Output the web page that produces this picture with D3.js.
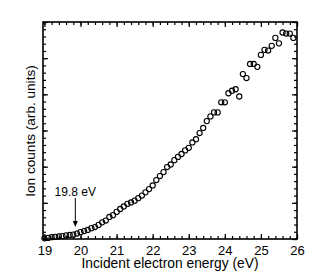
<!DOCTYPE html>
<html>
<head>
<meta charset="utf-8">
<script src="https://cdn.jsdelivr.net/npm/d3@7"></script>
<style>
  body { margin: 0; background: #fff; }
  text { font-family: "Liberation Sans", Arial, sans-serif; fill: #000; }
</style>
</head>
<body>
<div class="chart"></div>
<script>
// data
var energy = [19.0,19.1,19.2,19.3,19.4,19.5,19.6,19.7,19.8,19.9,
              20.0,20.1,20.2,20.3,20.4,20.5,20.6,20.7,20.8,20.9,
              21.0,21.1,21.2,21.3,21.4,21.5,21.6,21.7,21.8,21.9,
              22.0,22.1,22.2,22.3,22.4,22.5,22.6,22.7,22.8,22.9,
              23.0,23.1,23.2,23.3,23.4,23.5,23.6,23.7,23.8,23.9,
              24.0,24.1,24.2,24.3,24.4,24.5,24.6,24.7,24.8,24.9,
              25.0,25.1,25.2,25.3,25.4,25.5,25.6,25.7,25.8,25.9];
var counts = [0.02,0.03,0.05,0.06,0.07,0.08,0.10,0.11,0.12,0.15,
              0.19,0.22,0.25,0.30,0.33,0.39,0.46,0.51,0.61,0.66,
              0.75,0.83,0.90,0.97,1.01,1.06,1.13,1.20,1.29,1.38,
              1.48,1.63,1.74,1.85,1.99,2.06,2.18,2.27,2.35,2.45,
              2.52,2.67,2.76,2.93,3.07,3.26,3.39,3.50,3.50,3.78,
              3.78,4.03,4.10,4.14,3.94,4.56,4.45,4.84,4.84,4.76,
              5.09,5.23,5.21,5.34,5.56,5.41,5.71,5.68,5.68,5.56];
var xTicks = [19, 20, 21, 22, 23, 24, 25, 26];
var threshold = 19.8;
var thresholdLabel = '19.8 eV';

var margin = { top: 22, right: 33, bottom: 33, left: 43 },
    width  = 330 - margin.left - margin.right,
    height = 272 - margin.top - margin.bottom;

var x = d3.scaleLinear().domain([18.96, 26]).range([0, width]);
var y = d3.scaleLinear().domain([0, 6]).range([height, 0]);

var svg = d3.select('.chart')
    .append('svg')
    .attr('width', 330)
    .attr('height', 272)
    .append('g')
    .attr('transform', 'translate(' + margin.left + ',' + margin.top + ')');

var xMinor = d3.range(19, 26.001, 0.2);
var yMinor = d3.range(0, 6.001, 0.2);
var yMajor = d3.range(0, 7, 1);

function tickAxis(axisFn, scale, vals, size) {
    return axisFn(scale).tickValues(vals).tickSize(size).tickFormat('');
}

// inward ticks on all four sides
svg.append('g').attr('transform', 'translate(0,' + height + ')')
    .call(tickAxis(d3.axisBottom, x, xMinor, -3));
svg.append('g').attr('transform', 'translate(0,' + height + ')')
    .call(d3.axisBottom(x).tickValues(xTicks).tickSize(-5).tickPadding(7).tickFormat(d3.format('d')))
    .selectAll('text').attr('font-size', 13);
svg.append('g').call(tickAxis(d3.axisTop, x, xMinor, -3));
svg.append('g').call(tickAxis(d3.axisTop, x, xTicks, -5));
svg.append('g').call(tickAxis(d3.axisLeft, y, yMinor, -3));
svg.append('g').call(tickAxis(d3.axisLeft, y, yMajor, -5));
svg.append('g').attr('transform', 'translate(' + width + ',0)')
    .call(tickAxis(d3.axisRight, y, yMinor, -3));
svg.append('g').attr('transform', 'translate(' + width + ',0)')
    .call(tickAxis(d3.axisRight, y, yMajor, -5));

svg.selectAll('.domain').remove();
svg.selectAll('.tick line').attr('stroke', '#000').attr('stroke-width', 1.2);

svg.append('rect')
    .attr('width', width)
    .attr('height', height)
    .attr('fill', 'none')
    .attr('stroke', '#000')
    .attr('stroke-width', 1.6);

// points
svg.selectAll('circle')
    .data(energy)
    .enter()
    .append('circle')
    .attr('cx', function(d){ return x(d); })
    .attr('cy', function(d, i){ return y(counts[i]); })
    .attr('r', 2.6)
    .attr('fill', 'none')
    .attr('stroke', '#000')
    .attr('stroke-width', 1.1);

// threshold arrow
var ax = x(threshold) + 2;
svg.append('line')
    .attr('x1', ax).attr('x2', ax)
    .attr('y1', 176).attr('y2', 200)
    .attr('stroke', '#000').attr('stroke-width', 1);
svg.append('path')
    .attr('d', 'M' + (ax - 2.5) + ',199 L' + (ax + 2.5) + ',199 L' + ax + ',205 Z')
    .attr('fill', '#000');
svg.append('text')
    .attr('x', ax)
    .attr('y', 174)
    .attr('text-anchor', 'middle')
    .attr('font-size', 12)
    .text(thresholdLabel);

// axis labels
svg.append('text')
    .attr('x', width / 2)
    .attr('y', height + 29)
    .attr('text-anchor', 'middle')
    .attr('font-size', 13.8)
    .text('Incident electron energy (eV)');

svg.append('text')
    .attr('transform', 'rotate(-90)')
    .attr('x', -(131 - margin.top))
    .attr('y', -8.5)
    .attr('text-anchor', 'middle')
    .attr('font-size', 13.6)
    .text('Ion counts (arb. units)');
</script>
</body>
</html>
